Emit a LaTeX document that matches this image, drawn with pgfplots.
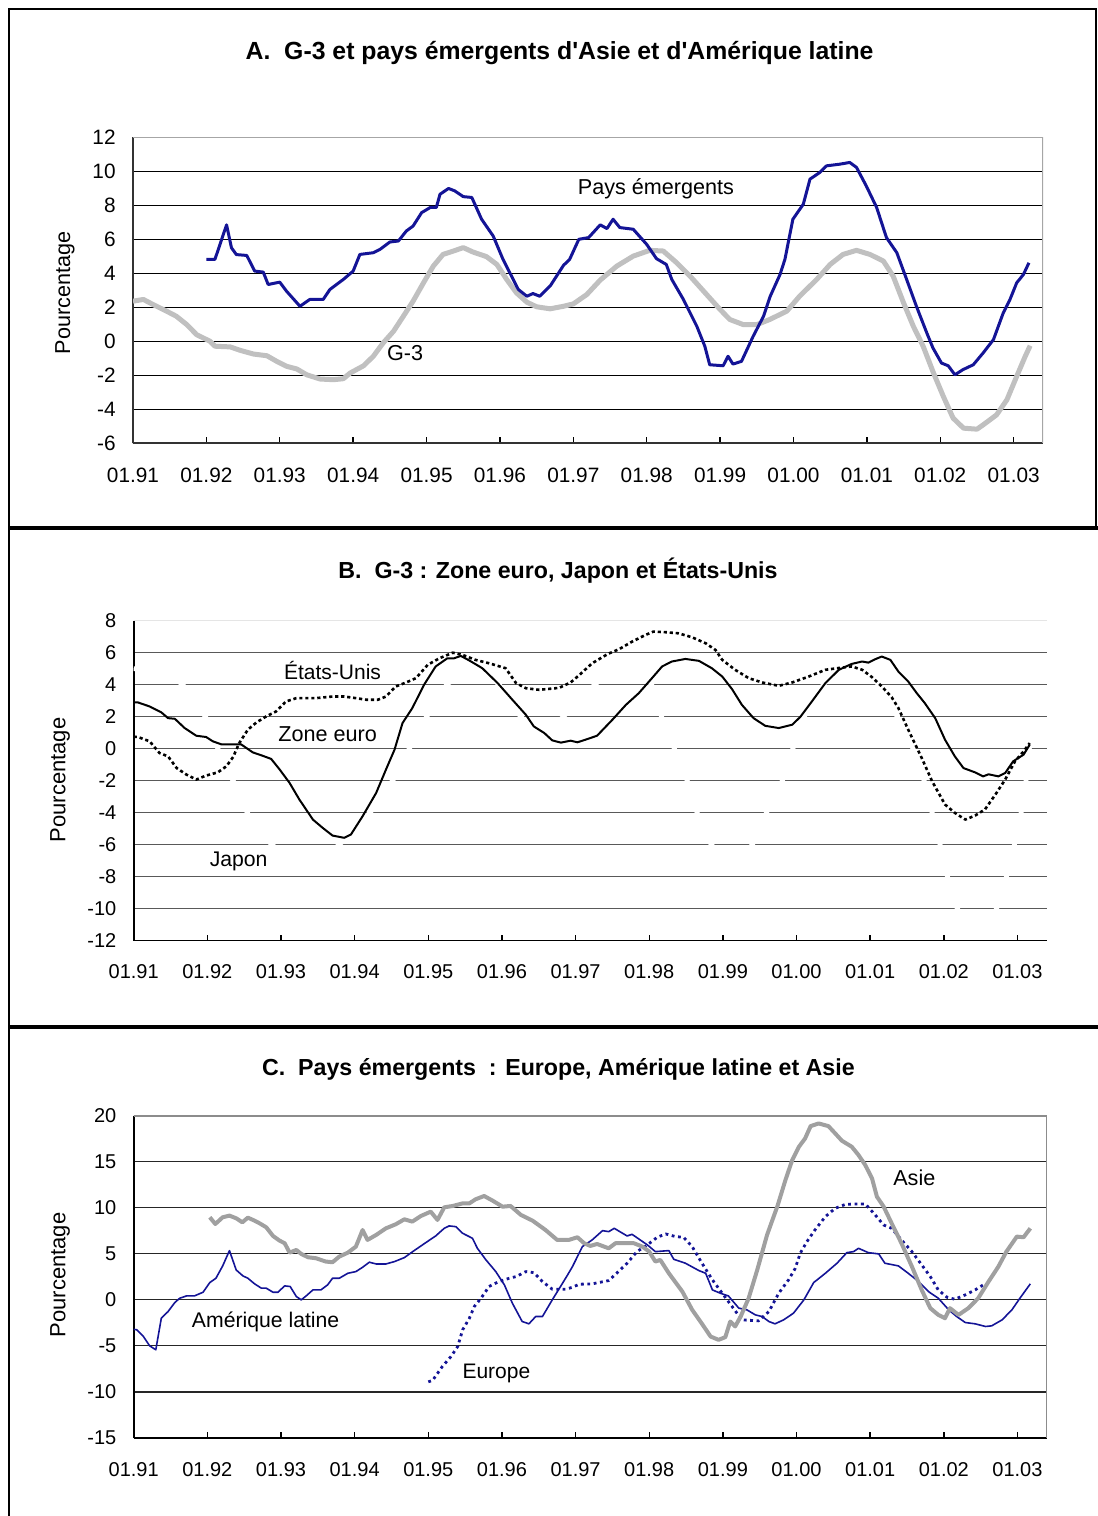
\documentclass[border=0pt]{standalone}
\usepackage{fontspec}
\setmainfont{Liberation Sans}
\usepackage{pgfplots}
\pgfplotsset{compat=1.18}
\definecolor{navy}{RGB}{20,20,150}
\definecolor{lgray}{RGB}{192,192,192}
\definecolor{mgray}{RGB}{160,160,160}
\newcommand{\ap}{\XeTeXglyph\XeTeXcharglyph"27\relax}
\pgfplotsset{
  mybase/.style={
    scale only axis,
    xmin=0, xmax=148.8,
    xtick={0,12,...,144},
    xticklabels={01.91,01.92,01.93,01.94,01.95,01.96,01.97,01.98,01.99,01.00,01.01,01.02,01.03},
    axis lines*=left,
    axis line style={-},
    x axis line style={-}, y axis line style={-},
    tick pos=left,
    tick align=inside,
    major tick length=3pt,
    ymajorgrids,
    ytick style={draw=none},
    xtick style={black, line width=0.7pt},
    tick label style={font=\fontsize{10}{12}\selectfont},
    xticklabel style={anchor=center, yshift=-15.6pt},
    yticklabel style={anchor=east, inner sep=0pt, xshift=-8.5pt},
    /pgf/number format/assume math mode=true,
    every axis plot/.append style={line join=round},
  }
}
\begin{document}
\begin{tikzpicture}[x=1pt,y=1pt]
\useasboundingbox (0,0) rectangle (549,758);
% frames
\draw[line width=1pt] (4.5,0) -- (4.5,753.5) -- (548,753.5) -- (548,494);
\draw[line width=1.6pt] (4.5,494) -- (549,494);
\draw[line width=1.8pt] (4.5,244.5) -- (549,244.5);
% titles
\node[font=\bfseries\fontsize{12.4}{14}\selectfont] at (279.8,731.5) {A.\ \ G-3 et pays émergents d\ap Asie et d\ap Amérique latine};
\node[font=\bfseries\fontsize{11.6}{13}\selectfont] at (279,472.5) {B.\ \ G-3 : Zone euro, Japon et États-Unis};
\node[font=\bfseries\fontsize{11.6}{13}\selectfont] at (279.2,223.5) {C.\ \ Pays émergents\ \ : Europe, Amérique latine et Asie};
% y labels
\node[rotate=90, font=\fontsize{10.8}{12}\selectfont] at (32.5,611.5) {Pourcentage};
\node[rotate=90, font=\fontsize{11}{12}\selectfont] at (30,368) {Pourcentage};
\node[rotate=90, font=\fontsize{11}{12}\selectfont] at (30,120.5) {Pourcentage};

% ---------------- Panel A ----------------
\begin{axis}[mybase,
  at={(66.5pt,536.35pt)}, anchor=south west,
  width=455pt, height=153pt,
  ymin=-6, ymax=12, ytick={-6,-4,...,12},
  grid style={black, line width=0.65pt},
  axis line style={black!80, line width=1pt},
  tick label style={font=\fontsize{10.4}{12}\selectfont},
  xticklabel style={yshift=-0.3pt},
]
\addplot[lgray, line width=2.5pt] coordinates {
(0,2.36)(1.7,2.46)(3.3,2.16)(5.5,1.77)(7.1,1.47)(8.8,0.98)(10.4,0.39)(12.6,0)(13.4,-0.29)(15.9,-0.33)(17.5,-0.53)(19.7,-0.75)(21.9,-0.85)(23.5,-1.18)(25.1,-1.47)(26.8,-1.63)(28.4,-1.97)(30.6,-2.22)(32.8,-2.26)(34.4,-2.2)(35.5,-1.87)(37.7,-1.44)(39.3,-0.88)(40.9,-0.1)(42.6,0.59)(44.2,1.47)(45.8,2.36)(47.5,3.44)(49.1,4.42)(50.7,5.11)(52.4,5.31)(54.0,5.51)(55.6,5.25)(57.8,4.98)(59.5,4.52)(61.1,3.64)(62.7,2.85)(64.4,2.3)(66.0,2.03)(68.2,1.91)(70.4,2.06)(72.0,2.2)(74.2,2.75)(76.4,3.6)(79.1,4.42)(81.8,5.01)(84.5,5.35)(86.7,5.31)(88.9,4.62)(91.1,3.83)(93.8,2.75)(96.0,1.87)(97.6,1.28)(99.8,0.98)(102.0,0.98)(104.1,1.28)(106.9,1.77)(109.0,2.65)(111.8,3.64)(114.0,4.52)(116.1,5.11)(118.3,5.35)(120.5,5.11)(122.7,4.72)(124.3,3.83)(126.0,2.26)(127.6,0.88)(129.2,-0.29)(130.9,-1.87)(132.5,-3.24)(134.1,-4.52)(135.8,-5.11)(138.0,-5.17)(139.0,-4.92)(141.2,-4.33)(142.9,-3.44)(144.5,-2.06)(145.9,-0.88)(146.7,-0.26)
};
\addplot[navy, line width=1.5pt] coordinates {
(12,4.82)(13.4,4.82)(15.3,6.85)(16.1,5.5)(16.9,5.1)(18.6,5.05)(19.9,4.13)(21.3,4.07)(22.1,3.34)(24.0,3.48)(25.1,2.95)(27.3,2.06)(28.9,2.46)(31.1,2.46)(32.2,3.05)(34.4,3.64)(36.0,4.13)(37.1,5.11)(39.3,5.21)(40.4,5.41)(42.0,5.84)(43.4,5.9)(44.7,6.49)(45.8,6.78)(47.2,7.57)(48.6,7.87)(49.6,7.87)(50.2,8.65)(51.6,8.99)(52.6,8.85)(54.0,8.51)(55.4,8.46)(57.0,7.18)(58.9,6.19)(60.5,4.82)(63.0,3.05)(64.4,2.65)(65.4,2.81)(66.5,2.65)(68.3,3.3)(70.4,4.47)(71.4,4.82)(72.9,6.0)(74.5,6.1)(76.4,6.85)(77.5,6.63)(78.5,7.18)(79.6,6.69)(81.8,6.59)(84.0,5.7)(85.6,4.86)(87.2,4.52)(88.1,3.64)(90.0,2.46)(92.2,0.88)(93.5,-0.29)(94.3,-1.38)(96.5,-1.44)(97.3,-0.88)(98.1,-1.34)(99.5,-1.18)(101.4,0.29)(103.1,1.47)(104.2,2.65)(105.8,3.93)(106.6,4.82)(107.9,7.18)(109.6,8.06)(110.7,9.54)(112.3,9.93)(113.4,10.32)(115.6,10.42)(117.2,10.52)(118.3,10.23)(119.9,9.14)(121.6,7.87)(123.2,6.1)(124.9,5.21)(126.5,3.64)(128.1,2.06)(129.8,0.49)(130.8,-0.39)(132.2,-1.28)(133.3,-1.44)(134.4,-1.97)(135.7,-1.67)(137.4,-1.38)(139.0,-0.69)(140.7,0.1)(142.3,1.67)(143.4,2.46)(144.5,3.44)(145.6,3.93)(146.5,4.62)
};
\draw[black!35, line width=1pt] (rel axis cs:0,1) -- (rel axis cs:1,1) -- (rel axis cs:1,0);
\node[font=\fontsize{10.8}{12}\selectfont] at (axis cs:85.5,9.0) {Pays émergents};
\node[font=\fontsize{10.8}{12}\selectfont] at (axis cs:44.5,-0.67) {G-3};
\end{axis}

% ---------------- Panel B ----------------
\begin{axis}[mybase,
  at={(66.85pt,287.65pt)}, anchor=south west,
  width=456.6pt, height=160pt,
  ymin=-12, ymax=8, ytick={-12,-10,...,8},
  grid style={black!65, line width=0.7pt},
  axis line style={black, line width=0.8pt},
]
% Japon (drawn in white in the original chart)
\addplot[white, line width=2.4pt] coordinates {
(0,5.0)(3,4.9)(6,4.6)(8,4.0)(10,3.0)(12,1.8)(13.5,0.2)(15,-1.2)(16.5,-2.2)(18.5,-4.0)(20.5,-5.2)(22.5,-6.0)(25,-6.8)(28,-7.1)(31,-6.8)(33.5,-6.0)(36,-5.0)(38.5,-4.0)(40.5,-3.0)(42.5,-1.8)(44.5,-0.3)(46.5,1.2)(48.5,2.5)(51,4.0)(53.5,4.8)(56,5.0)(58,4.6)(60,3.8)(62,2.5)(64,1.6)(66,1.1)(68,1.2)(70,2.0)(72,2.8)(74,3.6)(76,4.3)(78,5.0)(80,5.4)(82,5.1)(84.4,4.0)(86,2.0)(88.1,0)(90.2,-2)(91.8,-4)(94.1,-6)(96,-6.8)(97.5,-7.1)(99,-6.8)(100.8,-6)(103.1,-4)(105.7,-2)(107.4,0)(109,1.8)(111,3.3)(113,4.3)(115,5.0)(117,5.4)(119,5.2)(121,4.2)(123,3.0)(125,1.6)(127,0)(128.8,-2)(130.1,-4)(131.4,-6)(132.6,-8)(134.2,-10)(136,-11.2)(137.5,-11.5)(139,-11.2)(140.6,-10)(142.2,-8)(143.5,-6)(144.6,-4)(145.4,-2)(145.9,0)(146.2,0.3)
};
\addplot[black, line width=1pt] coordinates {
(0,2.9)(0.7,2.89)(2.6,2.64)(4.5,2.27)(5.6,1.91)(6.7,1.87)(8.3,1.29)(10.2,0.81)(11.8,0.73)(12.9,0.46)(14.3,0.27)(17.5,0.27)(19.4,-0.23)(21.0,-0.44)(22.4,-0.64)(23.8,-1.31)(25.4,-2.14)(27.0,-3.18)(29.2,-4.43)(30.8,-4.95)(32.4,-5.43)(34.3,-5.57)(35.4,-5.36)(37.3,-4.22)(39.5,-2.77)(41.1,-1.31)(42.5,-0.06)(43.8,1.6)(45.4,2.54)(47.3,3.99)(49.2,5.14)(51.1,5.65)(52.2,5.65)(53.3,5.8)(54.7,5.51)(56.8,5.03)(59.3,4.1)(61.7,3.06)(63.9,2.12)(65.2,1.39)(66.9,0.98)(68.2,0.52)(69.6,0.38)(71.2,0.5)(72.3,0.4)(73.6,0.56)(75.5,0.81)(78.0,1.81)(80.2,2.74)(82.3,3.47)(84.2,4.3)(86.1,5.14)(87.7,5.45)(89.9,5.61)(92.1,5.49)(94.2,5.03)(95.9,4.51)(97.5,3.72)(99.1,2.74)(101.0,1.91)(102.9,1.43)(105.1,1.29)(107.3,1.5)(108.6,1.98)(110.5,2.95)(112.7,4.1)(114.9,4.93)(117.0,5.3)(118.7,5.45)(119.7,5.38)(120.8,5.59)(121.9,5.76)(123.3,5.55)(124.6,4.82)(126.2,4.2)(127.6,3.47)(128.9,2.85)(130.6,1.91)(132.2,0.56)(133.8,-0.48)(135.2,-1.21)(137.1,-1.48)(138.4,-1.73)(139.3,-1.6)(140.9,-1.73)(142.0,-1.52)(143.3,-0.79)(145.0,-0.37)(146.0,0.25)
};
\addplot[black, line width=1.3pt, dash pattern=on 1.6pt off 1.4pt] coordinates {
(0,0.75)(0.7,0.73)(2.6,0.46)(4.2,-0.27)(5.6,-0.48)(7.0,-1.21)(8.6,-1.62)(10.2,-1.93)(11.8,-1.68)(13.7,-1.48)(15.1,-1.1)(16.2,-0.52)(17.2,0.35)(18.6,1.19)(20.0,1.64)(21.6,2.02)(23.2,2.33)(24.8,2.95)(26.5,3.16)(29.7,3.16)(32.4,3.26)(34.3,3.26)(36.2,3.16)(37.9,3.06)(39.8,3.06)(41.1,3.26)(42.7,3.89)(44.4,4.14)(46.0,4.41)(47.9,5.24)(49.8,5.65)(52.0,6.0)(53.6,5.86)(55.7,5.55)(57.9,5.34)(60.6,5.03)(62.3,4.1)(63.9,3.78)(66.1,3.68)(69.3,3.8)(71.2,4.14)(72.6,4.6)(74.7,5.34)(77.3,5.93)(79.1,6.22)(81.2,6.69)(83.4,7.11)(84.7,7.32)(86.7,7.28)(88.8,7.21)(91.0,6.96)(93.2,6.59)(94.8,6.17)(95.9,5.55)(98.0,4.93)(100.2,4.41)(102.4,4.14)(105.1,3.93)(107.3,4.14)(110.0,4.51)(112.7,4.93)(115.4,5.07)(117.0,5.14)(118.7,4.93)(120.3,4.47)(121.9,3.89)(123.5,3.22)(124.6,2.54)(126.2,1.19)(128.4,-0.58)(130.1,-2.04)(132.2,-3.49)(133.8,-4.01)(135.5,-4.43)(137.1,-4.18)(138.7,-3.8)(140.4,-2.87)(142.0,-1.93)(143.6,-0.79)(145.0,-0.17)(146.0,0.35)
};
\draw[black!10, line width=0.5pt] (rel axis cs:0,1) -- (rel axis cs:1,1);
\node[font=\fontsize{10.5}{12}\selectfont] at (axis cs:32.4,4.86) {États-Unis};
\node[font=\fontsize{10.8}{12}\selectfont] at (axis cs:31.6,0.92) {Zone euro};
\node[font=\fontsize{10.6}{12}\selectfont] at (axis cs:17.1,-7.07) {Japon};
\end{axis}

% ---------------- Panel C ----------------
\begin{axis}[mybase,
  at={(66.85pt,39pt)}, anchor=south west,
  width=456.6pt, height=161.15pt,
  ymin=-15, ymax=20, ytick={-15,-10,...,20},
  grid style={black!85, line width=0.55pt},
  axis line style={black, line width=0.8pt},
]
\addplot[navy, line width=0.8pt] coordinates {
(0,-3.2)(0.5,-3.25)(1.5,-3.9)(2.6,-4.99)(3.6,-5.42)(4.5,-1.99)(5.6,-1.27)(6.7,-0.29)(7.5,0.18)(8.6,0.43)(9.9,0.43)(11.3,0.83)(12.4,1.88)(13.4,2.35)(14.5,3.69)(15.6,5.35)(16.7,3.25)(17.8,2.6)(18.6,2.35)(19.7,1.74)(20.8,1.27)(21.6,1.27)(22.7,0.83)(23.5,0.83)(24.6,1.52)(25.5,1.45)(26.5,0.36)(27.3,0)(28.1,0.43)(29.2,1.08)(30.5,1.08)(31.6,1.63)(32.4,2.35)(33.5,2.35)(34.9,2.89)(36.2,3.07)(37.3,3.54)(38.4,4.09)(39.5,3.9)(41.1,3.9)(42.5,4.16)(44.1,4.59)(45.7,5.35)(47.6,6.22)(49.2,6.94)(50.6,7.77)(51.4,8.03)(52.5,7.95)(53.6,7.23)(55.2,6.69)(56.0,5.6)(57.4,4.34)(59.0,3.07)(60.4,1.63)(61.7,-0.36)(63.3,-2.35)(64.4,-2.6)(65.5,-1.81)(66.6,-1.81)(68.2,0)(69.5,1.4)(70.6,2.6)(71.5,3.62)(73.1,5.78)(74.7,6.51)(76.4,7.52)(77.4,7.41)(78.3,7.77)(80.4,6.94)(81.2,7.12)(83.7,5.97)(85.0,5.24)(87.2,5.35)(88.0,4.41)(89.9,3.98)(92.1,3.18)(93.2,2.89)(94.3,1.08)(95.6,0.72)(96.9,0.43)(98.6,-0.9)(99.9,-1.08)(101.3,-1.63)(102.4,-1.81)(103.5,-2.35)(104.5,-2.6)(105.9,-2.17)(107.5,-1.45)(109.2,0)(110.8,1.88)(112.7,2.89)(114.6,3.98)(116.2,5.13)(117.3,5.24)(118.1,5.6)(119.7,5.13)(121.4,4.99)(122.4,3.98)(124.6,3.69)(126.2,2.89)(127.9,1.99)(129.5,0.9)(131.1,0.18)(132.8,-1.08)(134.1,-1.81)(135.5,-2.46)(137.1,-2.6)(138.8,-2.89)(139.8,-2.82)(141.5,-2.17)(143.1,-1.08)(144.4,0.18)(146.1,1.74)
};
\addplot[navy, line width=1.4pt, dash pattern=on 1.4pt off 1.8pt] coordinates {
(48,-8.9)(48.7,-8.75)(50.3,-7.23)(51.7,-6.15)(52.8,-5.06)(53.6,-3.25)(54.7,-1.99)(55.5,-0.72)(56.6,0.18)(57.9,1.45)(59.5,1.99)(61.2,2.35)(62.3,2.53)(63.9,3.07)(65.2,2.96)(66.6,1.99)(68.2,1.16)(70.4,1.16)(71.5,1.37)(72.6,1.7)(74.7,1.74)(77.4,2.1)(78.8,2.96)(80.4,3.98)(82.0,5.24)(83.7,5.97)(85.3,6.8)(86.7,7.16)(88.3,6.87)(89.6,6.8)(91.0,5.78)(92.6,3.98)(94.3,2.17)(95.9,0.72)(97.5,-0.72)(99.1,-2.17)(101.8,-2.28)(103.5,-1.27)(105.1,0.72)(106.7,2.17)(107.8,3.43)(108.6,5.06)(109.7,6.33)(111.0,7.59)(112.7,9.04)(114.3,9.94)(116.0,10.38)(117.6,10.41)(119.2,10.41)(120.6,9.4)(122.2,8.13)(123.5,7.77)(125.1,6.51)(126.8,5.24)(128.4,3.8)(129.8,2.53)(131.1,1.08)(132.5,0.29)(133.8,0.07)(135.5,0.54)(137.1,1.08)(138.7,1.74)
};
\addplot[mgray, line width=2pt] coordinates {
(12.4,8.97)(13.3,8.24)(14.5,8.97)(15.6,9.15)(16.7,8.86)(17.7,8.42)(18.6,8.93)(19.7,8.6)(20.5,8.32)(21.6,7.88)(22.7,6.94)(23.75,6.44)(24.6,6.15)(25.4,5.13)(26.5,5.42)(27.3,4.99)(28.4,4.63)(29.7,4.52)(31.3,4.16)(32.4,4.09)(33.5,4.7)(34.9,5.13)(36.2,5.78)(37.3,7.59)(38.1,6.51)(39.5,7.05)(41.1,7.77)(42.7,8.21)(44.1,8.75)(45.4,8.5)(46.8,9.11)(48.4,9.58)(49.5,8.68)(50.6,10.05)(52.0,10.2)(53.6,10.48)(54.7,10.48)(55.7,10.92)(57.1,11.28)(58.5,10.77)(60.1,10.12)(61.4,10.2)(63.1,9.22)(65.0,8.6)(67.1,7.59)(69.0,6.51)(70.9,6.51)(72.3,6.8)(73.4,6.15)(74.4,5.86)(75.5,6.07)(77.4,5.6)(78.5,6.15)(81.5,6.15)(82.9,5.78)(84.0,5.24)(85.0,4.16)(85.8,4.34)(87.2,2.89)(89.4,0.9)(91.0,-1.08)(92.6,-2.6)(94.0,-3.98)(95.3,-4.34)(96.4,-4.05)(97.2,-2.35)(98.0,-2.89)(98.9,-1.81)(100.2,0.18)(101.6,3.25)(103.2,7.05)(104.9,10.2)(106.2,13.02)(107.3,15.18)(108.4,16.63)(109.4,17.53)(110.3,18.87)(111.6,19.16)(113.2,18.87)(114.3,18.08)(115.4,17.28)(117.0,16.63)(118.1,15.73)(119.2,14.64)(120.3,13.2)(121.1,11.21)(122.2,10.12)(123.5,8.32)(125.1,6.15)(126.8,3.62)(128.4,1.08)(129.8,-0.9)(131.1,-1.63)(132.2,-1.99)(133.0,-0.9)(134.4,-1.63)(136.0,-0.9)(137.6,0.18)(139.3,1.99)(140.9,3.62)(142.2,5.24)(143.9,6.87)(145.0,6.8)(146.1,7.77)
};
\draw[black!45, line width=1pt] (rel axis cs:0,1) -- (rel axis cs:1,1) -- (rel axis cs:1,0);
\node[font=\fontsize{10.8}{12}\selectfont] at (axis cs:127.2,13.3) {Asie};
\node[font=\fontsize{10.6}{12}\selectfont] at (axis cs:21.5,-2.35) {Amérique latine};
\node[font=\fontsize{10.5}{12}\selectfont] at (axis cs:59.1,-8.0) {Europe};
\end{axis}
\end{tikzpicture}
\end{document}
